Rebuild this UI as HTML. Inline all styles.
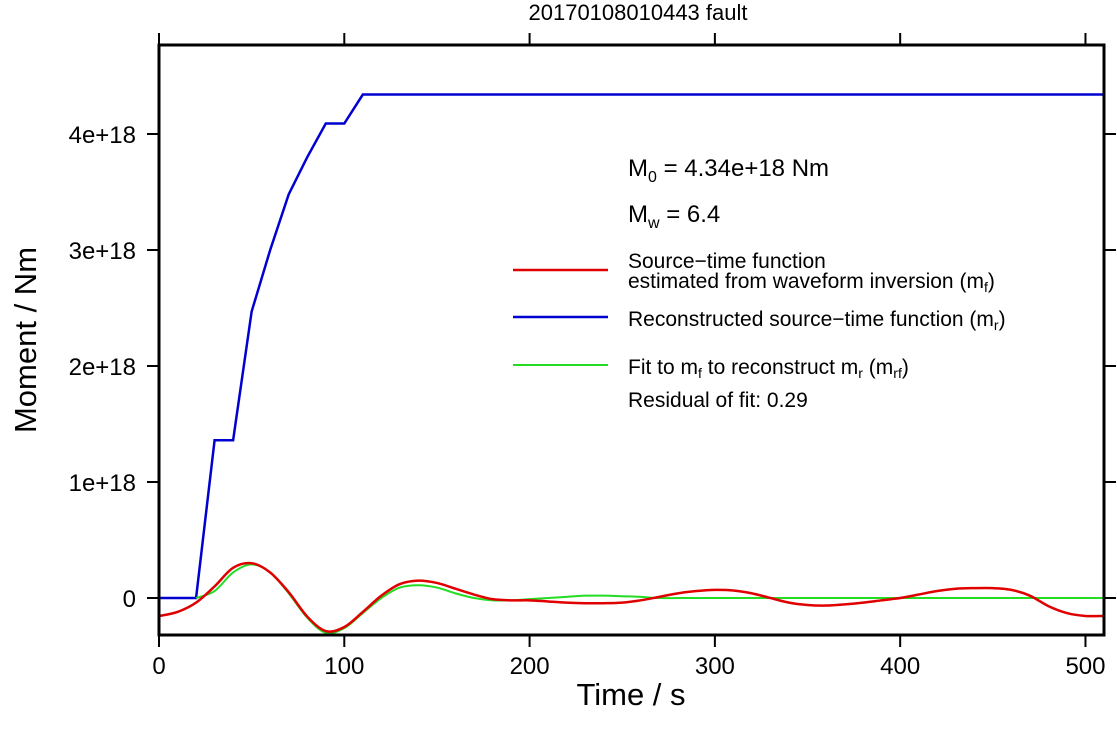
<!DOCTYPE html>
<html><head><meta charset="utf-8"><style>
html,body{margin:0;padding:0;background:#fff;}
svg{display:block;font-family:"Liberation Sans",sans-serif;}
</style></head><body>
<svg id="chart" width="1117" height="736" viewBox="0 0 1117 736">
<text x="638" y="20" font-size="22" text-anchor="middle">20170108010443 fault</text>
<g id="axes"></g>
<g id="series"></g>
<rect x="159" y="45" width="945" height="590" fill="none" stroke="#000" stroke-width="3"/>
<text x="631" y="705" font-size="31" text-anchor="middle">Time / s</text>
<text transform="translate(36,340) rotate(-90)" font-size="31" text-anchor="middle">Moment / Nm</text>
<g font-size="21">
<text x="628" y="176" font-size="24">M<tspan font-size="16" dy="6">0</tspan><tspan dy="-6"> = 4.34e+18 Nm</tspan></text>
<text x="628" y="222" font-size="24">M<tspan font-size="16" dy="6">w</tspan><tspan dy="-6"> = 6.4</tspan></text>
<line x1="513" y1="270" x2="608" y2="270" stroke="#e00000" stroke-width="2.5"/>
<text x="628" y="268">Source−time function</text>
<text x="628" y="288">estimated from waveform inversion (m<tspan font-size="14" dy="4">f</tspan><tspan dy="-4">)</tspan></text>
<line x1="513" y1="317" x2="608" y2="317" stroke="#0000d0" stroke-width="2.5"/>
<text x="628" y="326">Reconstructed source−time function (m<tspan font-size="14" dy="4">r</tspan><tspan dy="-4">)</tspan></text>
<line x1="513" y1="365" x2="608" y2="365" stroke="#22dd22" stroke-width="2"/>
<text x="628" y="374">Fit to m<tspan font-size="14" dy="4">f</tspan><tspan dy="-4"> to reconstruct m</tspan><tspan font-size="14" dy="4">r</tspan><tspan dy="-4"> (m</tspan><tspan font-size="14" dy="4">rf</tspan><tspan dy="-4">)</tspan></text>
<text x="628" y="407">Residual of fit: 0.29</text>
</g>
</svg>
<script>
const xTicks=[0,100,200,300,400,500];
const yTicks=[0,1,2,3,4];
const yTickLabels=["0","1e+18","2e+18","3e+18","4e+18"];
const blueT=[0,20,30,40,50,60,70,80,90,100,110,510];
const blueV=[0,0,1.36,1.36,2.47,3.0,3.48,3.8,4.09,4.09,4.34,4.34];
const redT=[0,10,20,30,40,50,60,70,80,90,100,110,120,130,140,150,160,170,180,190,200,210,220,230,240,250,260,270,280,290,300,310,320,330,340,350,360,370,380,390,400,410,420,430,440,450,460,470,480,490,500,510];
const redV=[-0.155,-0.12,-0.04,0.1,0.26,0.3,0.22,0.05,-0.16,-0.285,-0.25,-0.12,0.02,0.12,0.15,0.13,0.08,0.03,-0.01,-0.02,-0.02,-0.03,-0.04,-0.045,-0.045,-0.04,-0.02,0.01,0.04,0.06,0.07,0.065,0.04,0.0,-0.04,-0.06,-0.065,-0.055,-0.04,-0.02,0.0,0.03,0.06,0.08,0.085,0.085,0.07,0.02,-0.07,-0.13,-0.155,-0.155];
const greenT=[20,30,40,50,60,70,80,90,100,110,120,130,140,150,160,170,180,190,200,210,220,230,240,250,260,270,300,400,510];
const greenV=[0,0.06,0.22,0.29,0.22,0.04,-0.17,-0.3,-0.26,-0.13,0,0.09,0.11,0.09,0.04,0,-0.02,-0.02,-0.01,0,0.01,0.02,0.02,0.015,0.01,0,0,0,0];
const X=t=>159+t*(945/510);
const Y=v=>598-v*116;
const NS="http://www.w3.org/2000/svg";
const axes=document.getElementById('axes'), series=document.getElementById('series');
function mk(tag,attrs,parent){const e=document.createElementNS(NS,tag);for(const k in attrs)e.setAttribute(k,attrs[k]);parent.appendChild(e);return e;}
xTicks.forEach(t=>{
  const b=mk('line',{x1:X(t),x2:X(t),y1:635,y2:647,stroke:'#000','stroke-width':2},axes);
  
  
  const tp=mk('line',{x1:X(t),x2:X(t),y1:45,y2:33,stroke:'#000','stroke-width':2},axes);
  
  
  const l=mk('text',{x:X(t),y:674,'font-size':24,'text-anchor':'middle'},axes);
  l.textContent=t;
  
  
});
yTicks.forEach((v,i)=>{
  const a=mk('line',{x1:147,x2:159,y1:Y(v),y2:Y(v),stroke:'#000','stroke-width':2},axes);
  
  
  const r=mk('line',{x1:1104,x2:1116,y1:Y(v),y2:Y(v),stroke:'#000','stroke-width':2},axes);
  
  
  const l=mk('text',{x:136,y:Y(v)+9,'font-size':24,'text-anchor':'end'},axes);
  l.textContent=yTickLabels[i];
  
  
});
function smooth(T,V){
  const p=T.map((t,i)=>[X(t),Y(V[i])]);
  let d='M'+p[0][0]+','+p[0][1];
  for(let i=0;i<p.length-1;i++){
    const p0=p[Math.max(0,i-1)],p1=p[i],p2=p[i+1],p3=p[Math.min(p.length-1,i+2)];
    const c1=[p1[0]+(p2[0]-p0[0])/6,p1[1]+(p2[1]-p0[1])/6];
    const c2=[p2[0]-(p3[0]-p1[0])/6,p2[1]-(p3[1]-p1[1])/6];
    d+=' C'+c1+' '+c2+' '+p2;
  }
  return d;
}
const blue=mk('polyline',{points:blueT.map((t,i)=>X(t)+','+Y(blueV[i])).join(' '),fill:'none',stroke:'#0000d0','stroke-width':2.5},series);


const green=mk('path',{d:smooth(greenT,greenV),fill:'none',stroke:'#22dd22','stroke-width':2},series);


const red=mk('path',{d:smooth(redT,redV),fill:'none',stroke:'#e00000','stroke-width':2.5},series);


</script>
</body></html>
